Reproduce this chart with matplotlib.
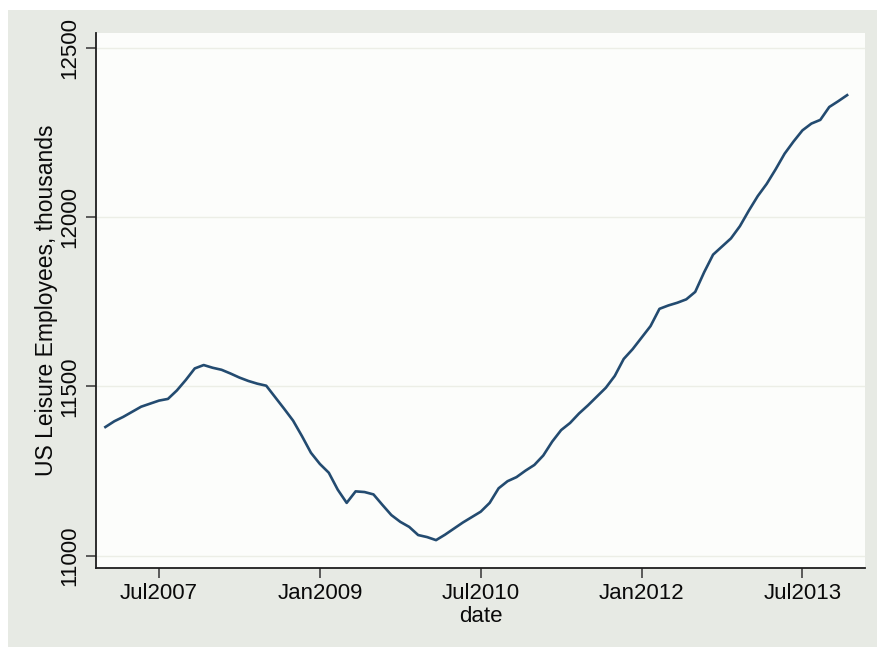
import matplotlib
matplotlib.use("Agg")
import matplotlib.pyplot as plt
from matplotlib.patches import Rectangle

# Monthly series, Jan2007 .. Dec2013 (month index 0 = Jan2007)
start_year = 2007
employees = [
    11380, 11397, 11410, 11425, 11440, 11449, 11458, 11463, 11488, 11519,
    11553, 11563, 11555, 11549, 11538, 11526, 11516, 11508, 11502, 11468,
    11434, 11399, 11353, 11304, 11271, 11245, 11195, 11156, 11190, 11188,
    11181, 11150, 11120, 11100, 11085, 11061, 11055, 11046, 11062, 11080,
    11098, 11114, 11130, 11156, 11199, 11220, 11232, 11251, 11268, 11296,
    11337, 11371, 11392, 11420, 11444, 11470, 11496, 11531, 11581, 11610,
    11644, 11678, 11729, 11739, 11747, 11757, 11779, 11837, 11889, 11913,
    11937, 11973, 12019, 12062, 12098, 12141, 12187, 12223, 12256, 12276,
    12287, 12325, 12342, 12360,
]
months = list(range(len(employees)))

x_tick_pos = [6, 24, 42, 60, 78]
x_tick_labels = ["Jul2007", "Jan2009", "Jul2010", "Jan2012", "Jul2013"]
y_ticks = [11000, 11500, 12000, 12500]
y_tick_labels = ["11000", "11500", "12000", "12500"]

plt.rcParams["font.family"] = ["Liberation Sans", "DejaVu Sans"]

W, H = 877, 647
fig = plt.figure(figsize=(W / 100, H / 100), dpi=100)
fig.patch.set_facecolor("white")

# grey graph region behind the plot
bg = fig.add_axes([0, 0, 1, 1], zorder=-5)
bg.set_axis_off()
bg.add_patch(Rectangle((8 / W, 0), 1 - 8 / W, 1 - 10 / H,
                       transform=bg.transAxes, facecolor="#e7eae4",
                       edgecolor="none"))

ax = fig.add_axes([96 / W, (H - 568) / H, (865 - 96) / W, (568 - 33) / H],
                  zorder=1)
ax.set_facecolor("#fcfdfb")

ax.plot(months, employees, color="#234b70", lw=1.9, solid_joinstyle="round",
        zorder=3)

ax.set_xlim(-1.05, 85.0)
ax.set_ylim(10963.7, 12543.5)

ax.set_xticks(x_tick_pos)
ax.set_xticklabels(x_tick_labels)
ax.set_yticks(y_ticks)
ax.set_yticklabels(y_tick_labels, rotation=90, va="center")

ax.grid(axis="y", color="#eceee6", lw=1.0, zorder=1)
ax.grid(axis="x", visible=False)

for side in ("top", "right"):
    ax.spines[side].set_visible(False)
for side in ("left", "bottom"):
    ax.spines[side].set_color("#1e1e1e")
    ax.spines[side].set_linewidth(1.3)

ax.tick_params(axis="both", length=7, width=1.1, color="#333333",
               labelsize=16, labelcolor="#0a0a0a", pad=4)

ax.set_xlabel("date", fontsize=16, color="#0a0a0a", labelpad=1)
ax.set_ylabel("US Leisure Employees, thousands", fontsize=16.5,
              color="#0a0a0a", labelpad=1)

fig.savefig("out.png", dpi=100, facecolor=fig.get_facecolor())
